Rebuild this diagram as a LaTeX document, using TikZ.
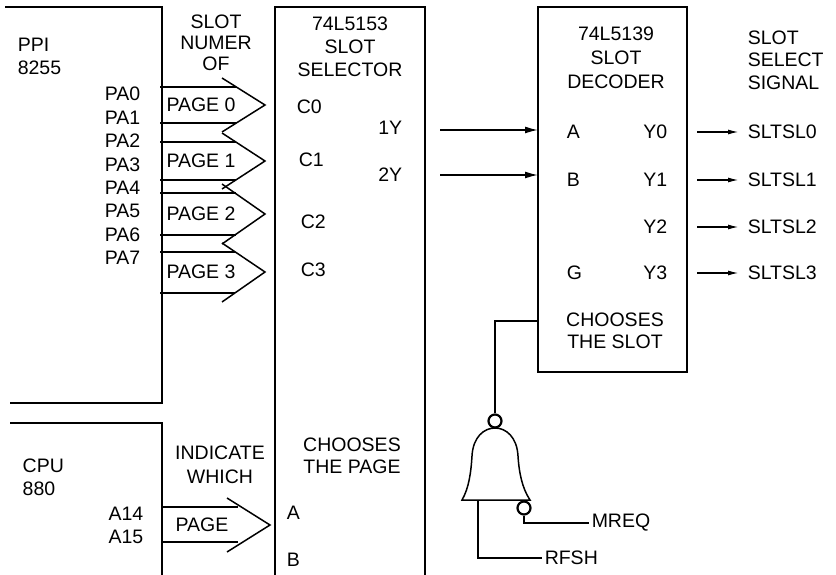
\documentclass[tikz,border=0pt]{standalone}
\usepackage{fontspec}
\setmainfont{Liberation Sans}
\usepackage{tikz}
\usetikzlibrary{arrows.meta,positioning}

\begin{document}
\begin{tikzpicture}[x=1pt,y=-1pt,line width=1.5pt,
    every node/.style={font=\fontsize{19.5}{23}\selectfont,inner sep=2pt},
    lbl/.style={align=center},
    sig/.style={-{Latex[length=13pt,width=7pt]}},
    sigs/.style={-{Latex[length=11pt,width=5pt]},shorten >=6pt},
    bubble/.style={circle,draw,line width=2.2pt,minimum size=13pt,inner sep=0pt}]
  \useasboundingbox (0,0) rectangle (836,575);

  % the four boxes
  \draw (5,7) -- (162,7) -- (162,403) -- (10,403);
  \draw (10,423) -- (162,423) -- (162,575);
  \draw (275,575) -- (275,7) -- (425,7) -- (425,575);
  \draw (538,7) rectangle (687,372);

  % PPI and its port
  \node (ppi) [anchor=west,align=left] at (15,56) {PPI\\8255};
  \node (pa) [anchor=east,align=right,font=\fontsize{19.5}{23.4}\selectfont] at (143,176)
        {PA0\\PA1\\PA2\\PA3\\PA4\\PA5\\PA6\\PA7};
  \node (slotnum) [lbl,font=\fontsize{19.5}{21}\selectfont] at (216,43) {SLOT\\NUMER\\OF};

  % bus arrows into the selector
  \draw (160,87) -- (236,87);   \draw (160,123) -- (236,123);
  \draw (222,78) -- (265,105) -- (222,132);
  \draw (160,142) -- (236,142); \draw (160,180) -- (236,180);
  \draw (222,133) -- (265,161) -- (222,189);
  \draw (160,193) -- (236,193); \draw (160,235) -- (236,235);
  \draw (222,184) -- (265,214) -- (222,244);
  \draw (160,252) -- (235,252); \draw (160,293) -- (235,293);
  \draw (222,243) -- (265,272) -- (222,302);
  \node (pg0) at (201,105) {PAGE 0};
  \node (pg1) at (201,161) {PAGE 1};
  \node (pg2) at (201,214) {PAGE 2};
  \node (pg3) at (201,272) {PAGE 3};

  % slot selector
  \node (sel) [lbl] at (350,47) {74L5153\\SLOT\\SELECTOR};
  \node (c0) [anchor=west] at (294,107) {C0};
  \node (c1) [anchor=west] at (296,160) {C1};
  \node (c2) [anchor=west] at (298,222) {C2};
  \node (c3) [anchor=west] at (298,270) {C3};
  \node (sy1) [anchor=east] at (405,128) {1Y};
  \node (sy2) [anchor=east] at (405,175) {2Y};
  \node (chpage) [lbl,font=\fontsize{19.5}{22}\selectfont] at (352,456) {CHOOSES\\THE PAGE};
  \node (sa) [anchor=west] at (284,513) {A};
  \node (sb) [anchor=west] at (284,560) {B};

  % CPU
  \node (cpu) [anchor=west,align=left] at (20,477) {CPU\\880};
  \node (addr) [anchor=east,align=right] at (146,525) {A14\\A15};
  \node (ind) [lbl,font=\fontsize{19.5}{24}\selectfont] at (220,465) {INDICATE\\WHICH};
  \draw (162,507) -- (238,507); \draw (162,542) -- (238,542);
  \draw (227,498) -- (270,525) -- (227,552);
  \node (pgcpu) at (202,525) {PAGE};

  % slot decoder
  \node (dec) [lbl,font=\fontsize{19.5}{24}\selectfont] at (616,58) {74L5139\\SLOT\\DECODER};
  \node (da) [anchor=west] at (564,132) {A};
  \node (db) [anchor=west] at (564,180) {B};
  \node (dg) [anchor=west] at (564,273) {G};
  \node (dy0) [anchor=east] at (670,132) {Y0};
  \node (dy1) [anchor=east] at (670,180) {Y1};
  \node (dy2) [anchor=east] at (670,227) {Y2};
  \node (dy3) [anchor=east] at (670,273) {Y3};
  \node (chslot) [lbl,font=\fontsize{19.5}{22}\selectfont] at (615,331) {CHOOSES\\THE SLOT};

  % select signals
  \node (sss) [anchor=west,align=left,font=\fontsize{19.5}{22.5}\selectfont] at (745,60) {SLOT\\SELECT\\SIGNAL};
  \node (sl0) [anchor=west] at (745,132) {SLTSL0};
  \node (sl1) [anchor=west] at (745,180) {SLTSL1};
  \node (sl2) [anchor=west] at (745,227) {SLTSL2};
  \node (sl3) [anchor=west] at (745,273) {SLTSL3};

  % connectors
  \coordinate (y1o) at (440,130);
  \coordinate (decA) at (538,130);
  \coordinate (y2o) at (440,175);
  \coordinate (decB) at (538,175);
  \draw[sig] (y1o) -- (decA);
  \draw[sig] (y2o) -- (decB);
  \coordinate (o0) at (697,132);
  \coordinate (o1) at (697,180);
  \coordinate (o2) at (697,227);
  \coordinate (o3) at (697,273);
  \draw[sigs] (o0) -- (sl0.west);
  \draw[sigs] (o1) -- (sl1.west);
  \draw[sigs] (o2) -- (sl2.west);
  \draw[sigs] (o3) -- (sl3.west);

  % gate on G
  \draw (462,500) .. controls (469,488) and (471,472) .. (472,456)
        .. controls (473,437) and (484,428) .. (495,428)
        .. controls (506,428) and (517,437) .. (518,456)
        .. controls (519,472) and (522,488) .. (530,500) -- cycle;
  \node[bubble] (gout) at (495,421) {};
  \node[bubble] (gmreq) at (524,508) {};
  \coordinate (decG) at (538,321);
  \draw (gout.north) |- (decG);
  \node (mreq) [anchor=west] at (589,523) {MREQ};
  \draw (gmreq.south) |- (mreq.west);
  \coordinate (grfsh) at (478,500);
  \node (rfsh) [anchor=west] at (542,558) {RFSH};
  \draw (grfsh) |- (rfsh.west);
\end{tikzpicture}
\end{document}
